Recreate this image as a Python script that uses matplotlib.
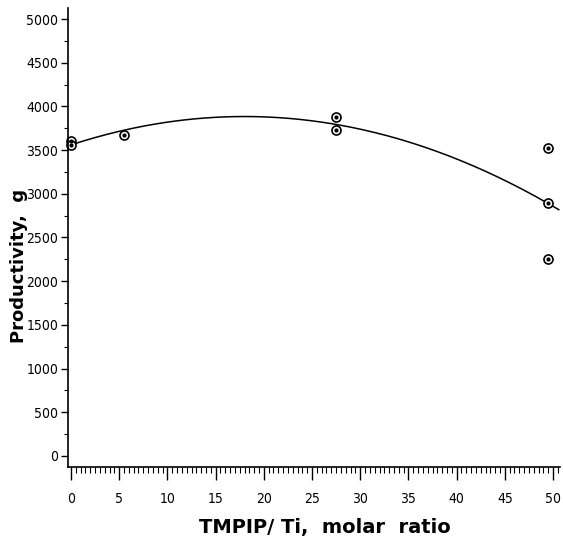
import numpy as np
import matplotlib.pyplot as plt
from matplotlib.ticker import MultipleLocator

ratio = [0, 0, 5.5, 27.5, 27.5, 49.5, 49.5, 49.5]
productivity = [3600, 3560, 3670, 3880, 3730, 3520, 2890, 2250]

xticks = [0, 5, 10, 15, 20, 25, 30, 35, 40, 45, 50]
yticks = [0, 500, 1000, 1500, 2000, 2500, 3000, 3500, 4000, 4500, 5000]

fig = plt.figure(figsize=(5.63, 5.40), dpi=100)
ax = fig.add_axes([0.1208, 0.1352, 0.874, 0.85])

# quadratic fit through the data, as in the original
coef = np.polyfit(ratio, productivity, 2)
xs = np.linspace(0, 50.6, 200)
ax.plot(xs, np.polyval(coef, xs), color='black', lw=1.1, clip_on=False)

ax.plot(ratio, productivity, 'o', ms=6.5, mfc='white', mec='black', mew=1.2, clip_on=False)
ax.plot(ratio, productivity, 'o', ms=2, color='black', clip_on=False)

ax.set_xlim(-0.31, 50.73)
ax.set_ylim(-126, 5126)

ax.spines['top'].set_visible(False)
ax.spines['right'].set_visible(False)
ax.spines['left'].set_linewidth(1.2)
ax.spines['bottom'].set_linewidth(1.2)

ax.set_xticks(xticks)
ax.set_yticks(yticks)
ax.xaxis.set_minor_locator(MultipleLocator(0.5))
ax.yaxis.set_minor_locator(MultipleLocator(250))
ax.tick_params(axis='x', which='major', direction='out', length=9, width=1, pad=9)
ax.tick_params(axis='x', which='minor', direction='out', length=4, width=0.8)
ax.tick_params(axis='y', which='major', direction='out', length=5, width=1, pad=2)
ax.tick_params(axis='y', which='minor', direction='out', length=3, width=0.8)

for lab in ax.get_xticklabels() + ax.get_yticklabels():
    lab.set_family('DejaVu Sans')
    lab.set_fontstretch('condensed')
    lab.set_fontsize(10)

ax.set_xlabel('TMPIP/ Ti,  molar  ratio', fontsize=14, fontweight='bold')
ax.set_ylabel('Productivity,  g', fontsize=13, fontweight='bold')
ax.xaxis.set_label_coords(0.522, -0.112)
ax.yaxis.set_label_coords(-0.082, 0.438)

fig.savefig('out.png', dpi=100)
